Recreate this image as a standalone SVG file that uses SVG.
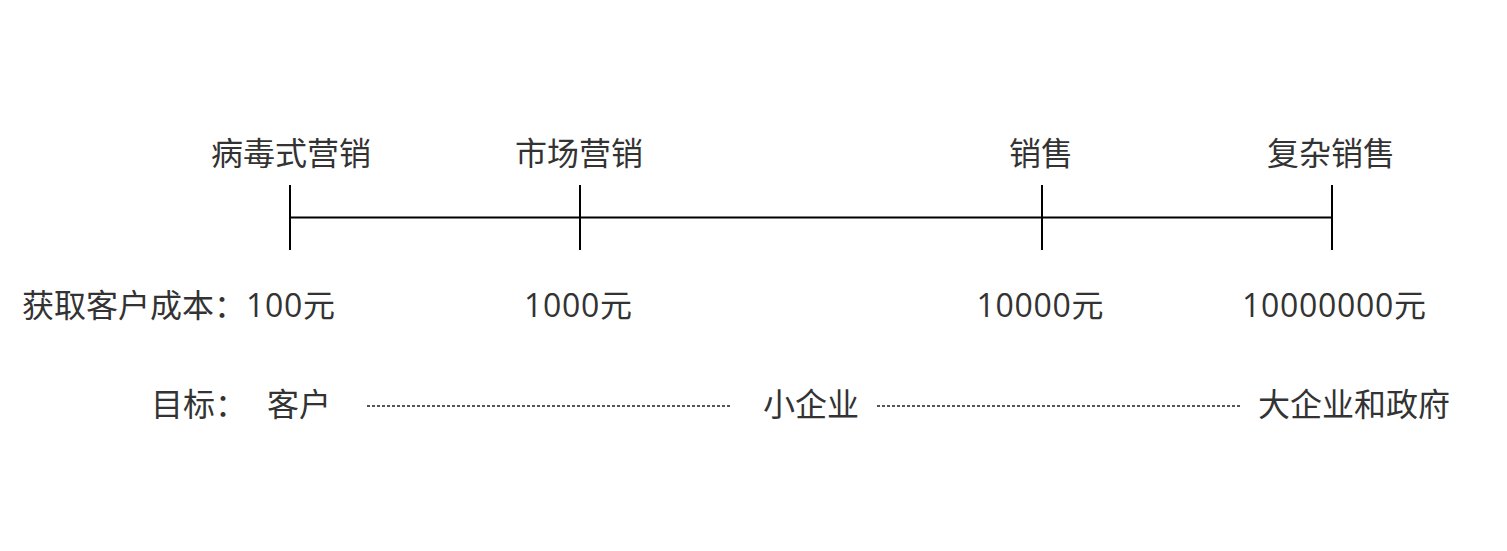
<svg xmlns="http://www.w3.org/2000/svg" width="1507" height="551" viewBox="0 0 1507 551">
<style>
text{font-family:"Noto Sans CJK SC","Noto Sans",sans-serif;font-size:32px;fill:#333;}
.m{text-anchor:middle;}
.n{font-family:"Open Sans","Noto Sans",sans-serif;letter-spacing:0.7px;}
.axis{stroke:#000;stroke-width:2;fill:none;}
.dash{stroke:#555;stroke-width:2;stroke-dasharray:3 2;fill:none;}
</style>
<rect width="1507" height="551" fill="#fff"/>
<g id="connectors">
<line class="axis" x1="290" y1="217.5" x2="1332" y2="217.5"/>
<line class="axis" x1="290" y1="185" x2="290" y2="250"/>
<line class="axis" x1="580" y1="185" x2="580" y2="250"/>
<line class="axis" x1="1042" y1="185" x2="1042" y2="250"/>
<line class="axis" x1="1332" y1="185" x2="1332" y2="250"/>
<line class="dash" x1="367" y1="406" x2="731" y2="406"/>
<line class="dash" x1="877" y1="406" x2="1241" y2="406"/>
</g>
<g id="stage-viral"><text class="m" x="291" y="165">病毒式营销</text></g>
<g id="stage-market"><text class="m" x="579" y="165">市场营销</text></g>
<g id="stage-sales"><text class="m" x="1041" y="165">销售</text></g>
<g id="stage-complex"><text class="m" x="1331" y="165">复杂销售</text></g>
<g id="cost-100"><text x="22" y="317">获取客户成本：<tspan class="n">100</tspan>元</text></g>
<g id="cost-1000"><text class="m" x="578" y="317"><tspan class="n">1000</tspan>元</text></g>
<g id="cost-10000"><text class="m" x="1040" y="317"><tspan class="n">10000</tspan>元</text></g>
<g id="cost-10000000"><text class="m" x="1334" y="317"><tspan class="n">10000000</tspan>元</text></g>
<g id="target-label"><text x="151" y="416">目标：</text></g>
<g id="target-customer"><text class="m" x="299" y="416">客户</text></g>
<g id="target-small"><text class="m" x="811" y="416">小企业</text></g>
<g id="target-large"><text class="m" x="1354" y="416">大企业和政府</text></g>
</svg>
